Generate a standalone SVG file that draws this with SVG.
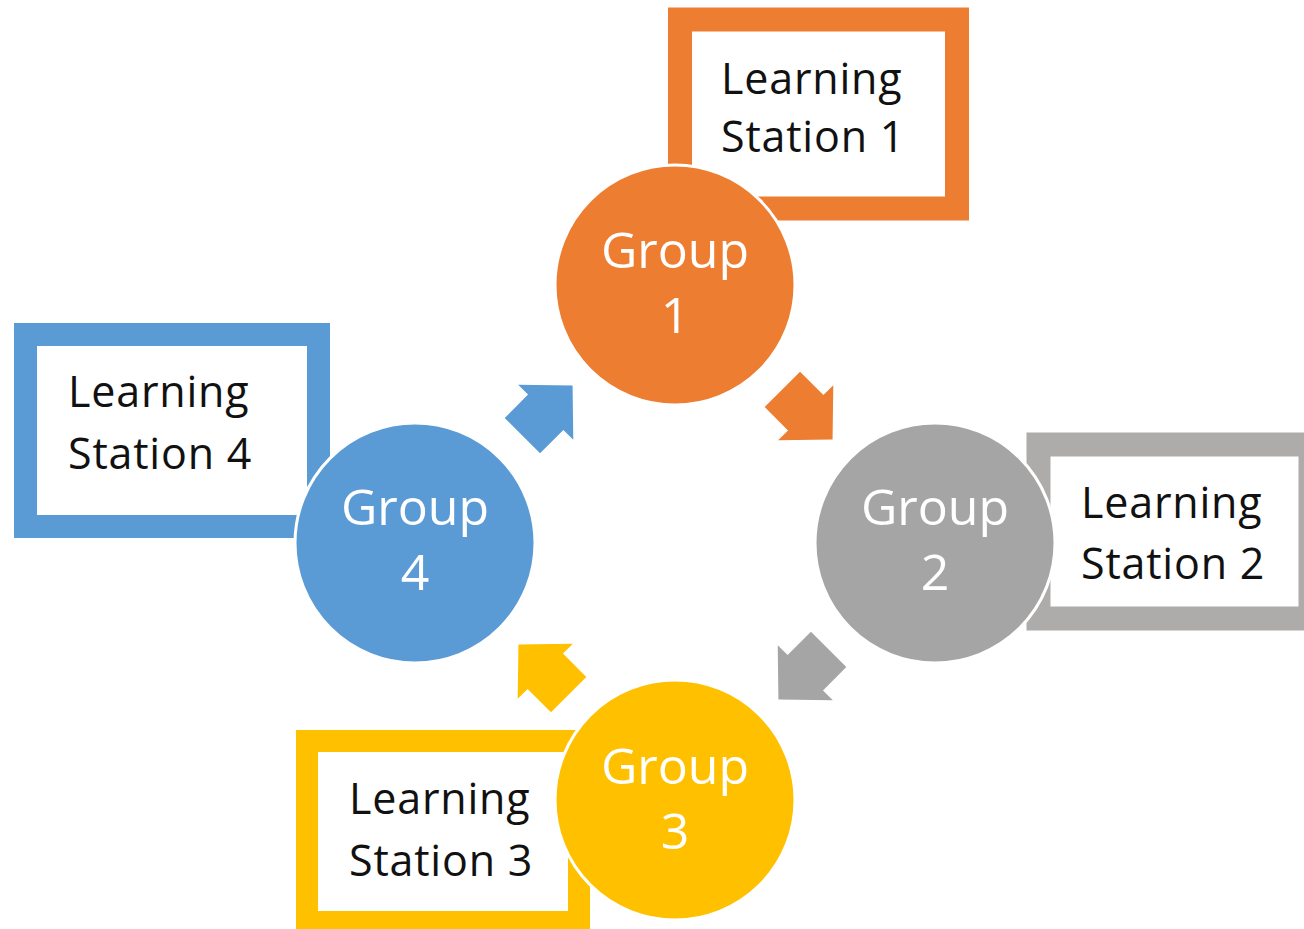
<svg xmlns="http://www.w3.org/2000/svg" width="1304" height="929" viewBox="0 0 1304 929">
<style>
.box{fill:#fff;}
.lbl{font-family:"Open Sans","Noto Sans",sans-serif;font-size:43px;letter-spacing:0.8px;fill:#111;}
.grp{font-family:"Open Sans","Noto Sans",sans-serif;font-size:50px;fill:#fff;text-anchor:middle;}
.circ{stroke:#fff;stroke-width:3;}
</style>
<defs>
<path id="arr" d="M-32,-25 L1,-25 L1,-39 L39,0 L1,39 L1,25 L-32,25 Z"/>
</defs>
<rect width="1304" height="929" fill="#fff"/>
<g id="station1">
<rect class="box" x="680" y="19.5" width="277" height="189" stroke="#ED7D31" stroke-width="24"/>
<text class="lbl" x="721" y="94">Learning</text>
<text class="lbl" x="721" y="152">Station 1</text>
</g>
<g id="station2">
<rect class="box" x="1038.5" y="444.5" width="272" height="174" stroke="#AEABAB" stroke-width="24"/>
<text class="lbl" x="1081" y="518">Learning</text>
<text class="lbl" x="1081" y="579">Station 2</text>
</g>
<g id="station3">
<rect class="box" x="307" y="741" width="272" height="181" stroke="#FFC000" stroke-width="22"/>
<text class="lbl" x="349" y="814">Learning</text>
<text class="lbl" x="349" y="876">Station 3</text>
</g>
<g id="station4">
<rect class="box" x="25.5" y="334.5" width="293" height="192" stroke="#5B9BD5" stroke-width="23"/>
<text class="lbl" x="68" y="407">Learning</text>
<text class="lbl" x="68" y="469">Station 4</text>
</g>
<g id="group1">
<circle class="circ" cx="675" cy="285" r="120" fill="#ED7D31"/>
<text class="grp" x="675" y="268">Group</text>
<text class="grp" x="675" y="333">1</text>
</g>
<g id="group2">
<circle class="circ" cx="935" cy="543" r="120" fill="#A5A5A5"/>
<text class="grp" x="935" y="525">Group</text>
<text class="grp" x="935" y="590">2</text>
</g>
<g id="group3">
<circle class="circ" cx="675" cy="800" r="120" fill="#FFC000"/>
<text class="grp" x="675" y="784">Group</text>
<text class="grp" x="675" y="849">3</text>
</g>
<g id="group4">
<circle class="circ" cx="415" cy="543" r="120" fill="#5B9BD5"/>
<text class="grp" x="415" y="525">Group</text>
<text class="grp" x="415" y="590">4</text>
</g>
<g id="connectors">
<use href="#arr" fill="#ED7D31" transform="translate(805,412) rotate(45)"/>
<use href="#arr" fill="#A5A5A5" transform="translate(806,672) rotate(135)"/>
<use href="#arr" fill="#FFC000" transform="translate(546,672) rotate(225)"/>
<use href="#arr" fill="#5B9BD5" transform="translate(545,413) rotate(-45)"/>
</g>
</svg>
